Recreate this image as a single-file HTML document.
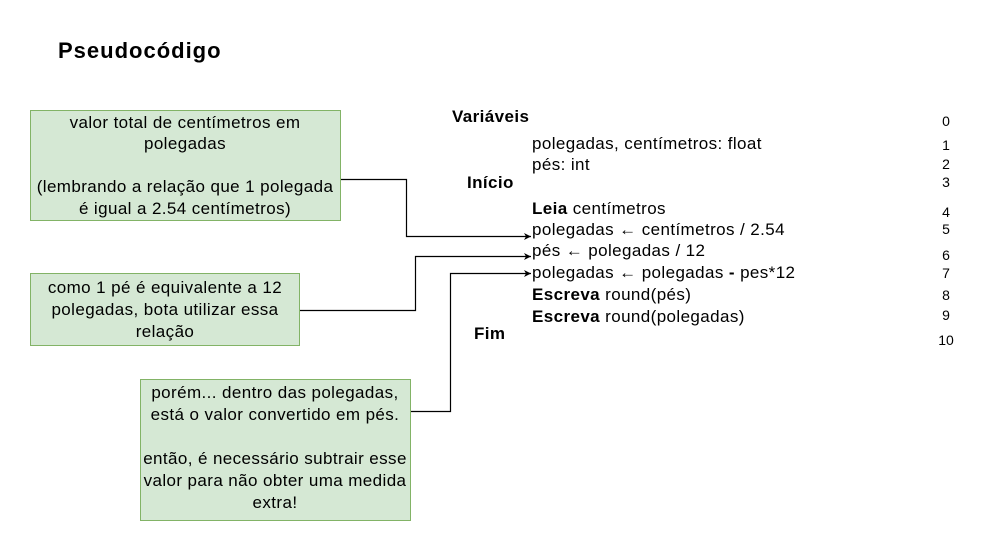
<!DOCTYPE html>
<html><head><meta charset="utf-8"><style>
html,body{margin:0;padding:0;background:#fff;}
svg{display:block;font-family:"Liberation Sans",Arial,sans-serif;}
</style></head><body>
<svg width="996" height="551" viewBox="0 0 996 551" xmlns="http://www.w3.org/2000/svg">
<defs><marker id="a" markerWidth="8" markerHeight="8" refX="7" refY="4" orient="auto" markerUnits="userSpaceOnUse"><path d="M0,0.5 L7,4 L0,7.5 L2,4 Z" fill="#000"/></marker></defs>
<text x="58" y="58" font-size="22" font-weight="bold" letter-spacing="1">Pseudocódigo</text>

<rect x="30.5" y="110.5" width="310" height="110" fill="#d5e8d4" stroke="#82b366"/>
<g font-size="17" text-anchor="middle" fill="#000" letter-spacing="0.4">
<text x="185" y="128">valor total de centímetros em</text>
<text x="185" y="149">polegadas</text>
<text x="185" y="192">(lembrando a relação que 1 polegada</text>
<text x="185" y="214">é igual a 2.54 centímetros)</text>
</g>

<rect x="30.5" y="273.5" width="269" height="72" fill="#d5e8d4" stroke="#82b366"/>
<g font-size="17" text-anchor="middle" letter-spacing="0.4">
<text x="165" y="293">como 1 pé é equivalente a 12</text>
<text x="165" y="315">polegadas, bota utilizar essa</text>
<text x="165" y="337">relação</text>
</g>

<rect x="140.5" y="379.5" width="270" height="141" fill="#d5e8d4" stroke="#82b366"/>
<g font-size="17" text-anchor="middle" letter-spacing="0.4">
<text x="275" y="398">porém... dentro das polegadas,</text>
<text x="275" y="420">está o valor convertido em pés.</text>
<text x="275" y="464">então, é necessário subtrair esse</text>
<text x="275" y="486">valor para não obter uma medida</text>
<text x="275" y="508">extra!</text>
</g>

<g fill="none" stroke="#000" stroke-width="1.2">
<path d="M341 179.5 H406.5 V236.5 H531" marker-end="url(#a)"/>
<path d="M300 310.5 H415.5 V256.5 H531" marker-end="url(#a)"/>
<path d="M411 411.5 H450.5 V273.5 H531" marker-end="url(#a)"/>
</g>

<g font-size="17" letter-spacing="0.4">
<text x="452" y="122" font-weight="bold">Variáveis</text>
<text x="532" y="149">polegadas, centímetros: float</text>
<text x="532" y="170">pés: int</text>
<text x="467" y="188" font-weight="bold">Início</text>
<text x="532" y="214"><tspan font-weight="bold">Leia</tspan> centímetros</text>
<text x="532" y="235">polegadas ← centímetros / 2.54</text>
<text x="532" y="256">pés ← polegadas / 12</text>
<text x="532" y="278">polegadas ← polegadas <tspan font-weight="bold">-</tspan> pes*12</text>
<text x="532" y="300"><tspan font-weight="bold">Escreva</tspan> round(pés)</text>
<text x="532" y="322"><tspan font-weight="bold">Escreva</tspan> round(polegadas)</text>
<text x="474" y="339" font-weight="bold">Fim</text>
</g>
<g font-size="14" text-anchor="middle">
<text x="946" y="126">0</text>
<text x="946" y="150">1</text>
<text x="946" y="169">2</text>
<text x="946" y="187">3</text>
<text x="946" y="217">4</text>
<text x="946" y="234">5</text>
<text x="946" y="260">6</text>
<text x="946" y="278">7</text>
<text x="946" y="300">8</text>
<text x="946" y="320">9</text>
<text x="946" y="345">10</text>
</g>
</svg>
</body></html>
